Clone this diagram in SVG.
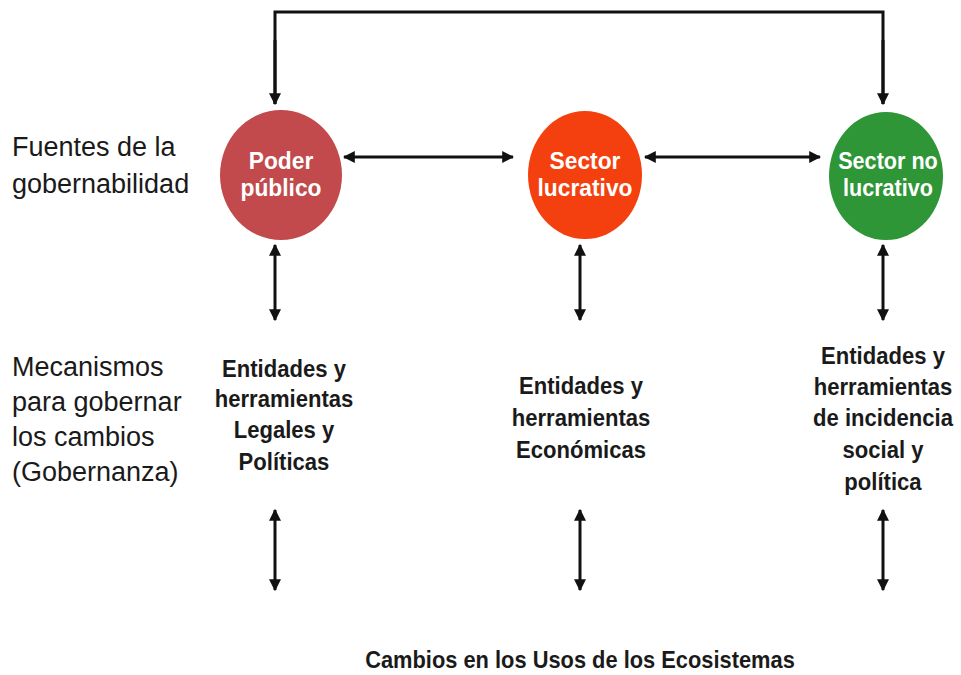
<svg xmlns="http://www.w3.org/2000/svg" width="961" height="675" viewBox="0 0 961 675">
<defs>
<marker id="ah" viewBox="0 0 10 10" refX="9" refY="5" markerWidth="4" markerHeight="4" orient="auto-start-reverse" markerUnits="strokeWidth">
<path d="M0,0 L10,5 L0,10 z" fill="#111"/>
</marker>
<style>
.ln{stroke:#111;stroke-width:3;fill:none}
.ar{stroke:#111;stroke-width:3;fill:none;marker-start:url(#ah);marker-end:url(#ah)}
.side{font-family:"Liberation Sans",Arial,sans-serif;font-size:27px;fill:#1a1a1a}
.mech{font-family:"Liberation Sans",Arial,sans-serif;font-weight:bold;font-size:24px;fill:#1a1a1a;text-anchor:middle}
.node{font-family:"Liberation Sans",Arial,sans-serif;font-weight:bold;font-size:24px;fill:#fff;text-anchor:middle}
.bot{font-family:"Liberation Sans",Arial,sans-serif;font-weight:bold;font-size:23px;fill:#1a1a1a;text-anchor:middle}
</style>
</defs>
<rect width="961" height="675" fill="#fff"/>
<g id="connectors">
<path class="ln" d="M275,104 L275,12 L883,12 L883,104"/>
<path class="ln" d="M275,40 L275,104" marker-end="url(#ah)"/>
<path class="ln" d="M883,40 L883,104" marker-end="url(#ah)"/>
<line class="ar" x1="344" y1="157" x2="513" y2="157"/>
<line class="ar" x1="645" y1="157" x2="820" y2="157"/>
<line class="ar" x1="275" y1="245" x2="275" y2="320"/>
<line class="ar" x1="580" y1="245" x2="580" y2="320"/>
<line class="ar" x1="883" y1="245" x2="883" y2="320"/>
<line class="ar" x1="275" y1="510" x2="275" y2="590"/>
<line class="ar" x1="580" y1="510" x2="580" y2="590"/>
<line class="ar" x1="883" y1="510" x2="883" y2="590"/>
</g>
<g id="label-fuentes">
<text class="side" x="12" y="156">Fuentes de la</text>
<text class="side" x="12" y="193">gobernabilidad</text>
</g>
<g id="label-mecanismos">
<text class="side" x="12" y="376">Mecanismos</text>
<text class="side" x="12" y="411">para gobernar</text>
<text class="side" x="12" y="446">los cambios</text>
<text class="side" x="12" y="481">(Gobernanza)</text>
</g>
<g id="poder-publico">
<ellipse cx="281" cy="175" rx="61" ry="65" fill="#c24a4c"/>
<g transform="translate(281,0) scale(0.95,1)">
<text class="node" x="0" y="169">Poder</text>
<text class="node" x="0" y="196">público</text>
</g>
</g>
<g id="sector-lucrativo">
<ellipse cx="585" cy="175" rx="57" ry="64" fill="#f4400e"/>
<g transform="translate(585,0) scale(0.95,1)">
<text class="node" x="0" y="169">Sector</text>
<text class="node" x="0" y="196">lucrativo</text>
</g>
</g>
<g id="sector-no-lucrativo">
<ellipse cx="886" cy="176" rx="57" ry="64" fill="#2e9636"/>
<g transform="translate(888,0) scale(0.9,1)">
<text class="node" x="0" y="169">Sector no</text>
<text class="node" x="0" y="196">lucrativo</text>
</g>
</g>
<g id="mec-legales" transform="translate(284,0) scale(0.92,1)">
<text class="mech" x="0" y="377">Entidades y</text>
<text class="mech" x="0" y="407">herramientas</text>
<text class="mech" x="0" y="438">Legales y</text>
<text class="mech" x="0" y="470">Políticas</text>
</g>
<g id="mec-economicas" transform="translate(581,0) scale(0.92,1)">
<text class="mech" x="0" y="394">Entidades y</text>
<text class="mech" x="0" y="426">herramientas</text>
<text class="mech" x="0" y="458">Económicas</text>
</g>
<g id="mec-social" transform="translate(883,0) scale(0.92,1)">
<text class="mech" x="0" y="364">Entidades y</text>
<text class="mech" x="0" y="395">herramientas</text>
<text class="mech" x="0" y="426">de incidencia</text>
<text class="mech" x="0" y="458">social y</text>
<text class="mech" x="0" y="490">política</text>
</g>
<g id="cambios" transform="translate(580,0) scale(0.95,1)">
<text class="bot" x="0" y="668">Cambios en los Usos de los Ecosistemas</text>
</g>
</svg>
